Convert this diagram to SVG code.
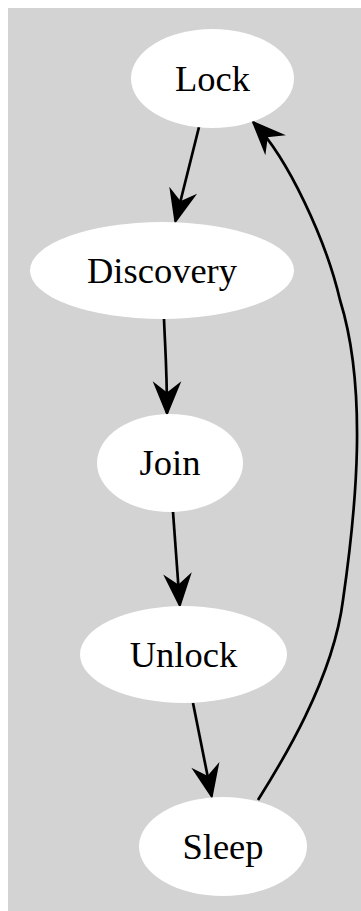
<svg xmlns="http://www.w3.org/2000/svg" width="361" height="911" viewBox="0 0 361 911">
  <style>
    .node ellipse { fill: #ffffff; stroke: none; }
    .node text { font-family: "Liberation Serif", "Times New Roman", serif; font-size: 36.5px; fill: #000000; text-anchor: middle; }
    .edge { fill: none; stroke: #000000; stroke-width: 2.7; marker-end: url(#vee); }
  </style>
  <defs>
    <marker id="vee" markerUnits="userSpaceOnUse" orient="auto" viewBox="-34 -16 38 32" refX="0" refY="0" markerWidth="38" markerHeight="32">
      <path d="M0,0 L-28,-11.5 L-19,0 L-28,11.5 Z" fill="#000000" stroke="#000000" stroke-width="2.4" stroke-linejoin="miter"/>
    </marker>
  </defs>

  <!-- cluster background -->
  <rect x="8" y="8" width="353" height="903" fill="#d3d3d3"/>

  <g id="connectors">
    <path class="edge" d="M199,127 L175.5,221"/>
    <path class="edge" d="M164,319 C165,345 167,370 167,413"/>
    <path class="edge" d="M173,512 L179.8,605"/>
    <path class="edge" d="M193,703 L211.6,796"/>
    <path class="edge" d="M258,800 C280,765 333,680 343,600 C356,510 368,390 340,300 C326,240 288,158 253.5,122.5"/>
  </g>

  <g id="node-lock" class="node">
    <ellipse cx="212.5" cy="78.5" rx="81.5" ry="49.5"/>
    <text x="212.5" y="91">Lock</text>
  </g>
  <g id="node-discovery" class="node">
    <ellipse cx="162" cy="270.5" rx="132" ry="48.5"/>
    <text x="162" y="282.5">Discovery</text>
  </g>
  <g id="node-join" class="node">
    <ellipse cx="170" cy="463" rx="73" ry="49"/>
    <text x="170" y="475">Join</text>
  </g>
  <g id="node-unlock" class="node">
    <ellipse cx="183.5" cy="654.5" rx="103.5" ry="48.5"/>
    <text x="183.5" y="667">Unlock</text>
  </g>
  <g id="node-sleep" class="node">
    <ellipse cx="223" cy="846.5" rx="84" ry="49.5"/>
    <text x="223" y="859">Sleep</text>
  </g>
</svg>
